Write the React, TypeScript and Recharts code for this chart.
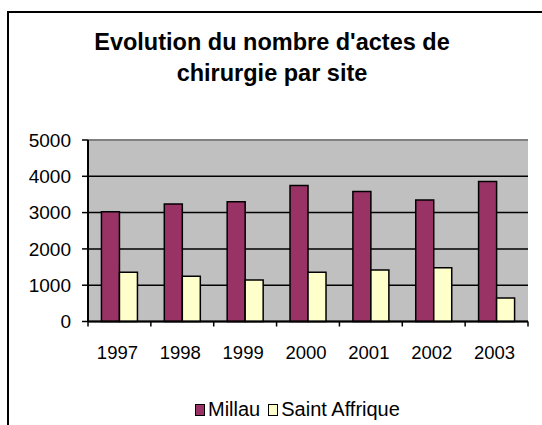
import React from 'react';
import { BarChart, Bar, XAxis, YAxis, CartesianGrid, Legend, ReferenceLine } from 'recharts';

const years = ['1997', '1998', '1999', '2000', '2001', '2002', '2003'];
const millau = [3020, 3240, 3300, 3750, 3580, 3350, 3860];
const saintAffrique = [1360, 1250, 1140, 1360, 1420, 1480, 650];
const yTicks = [0, 1000, 2000, 3000, 4000, 5000];
const seriesNames = ['Millau', 'Saint Affrique'];
const seriesColors = ['#993366', '#FFFFCC'];
const titleLines = ["Evolution du nombre d'actes de", 'chirurgie par site'];

const data = years.map((y, i) => ({ year: y, millau: millau[i], sa: saintAffrique[i] }));

const CHART_W = 542;
const CHART_H = 425;
const MARGIN = { top: 140, right: 14, bottom: 63.5, left: 0 };
const Y_AXIS_W = 88;
const X_AXIS_H = 40;
const PLOT_W = CHART_W - MARGIN.left - MARGIN.right - Y_AXIS_W;
const STEP = PLOT_W / years.length;
const FONT = '"Liberation Sans", Arial, sans-serif';

const XTick = (props: any) => {
  const { x, y, payload, index } = props;
  const last = index === years.length - 1;
  return (
    <g>
      <line x1={x - STEP / 2} x2={x - STEP / 2} y1={y} y2={y + 5} stroke="#000" strokeWidth={1.5} />
      {last && <line x1={x + STEP / 2} x2={x + STEP / 2} y1={y} y2={y + 5} stroke="#000" strokeWidth={1.5} />}
      <text x={x - 2} y={y + 37} textAnchor="middle" fontSize={18.5} fill="#000" fontFamily={FONT}>
        {payload.value}
      </text>
    </g>
  );
};

const LegendContent = () => (
  <div style={{ display: 'flex', alignItems: 'center', fontFamily: FONT, fontSize: 20, color: '#000', paddingLeft: 195 }}>
    {seriesNames.map((n, i) => (
      <div key={n} style={{ display: 'flex', alignItems: 'center', marginRight: 8 }}>
        <span style={{ display: 'inline-block', width: 8, height: 10, background: seriesColors[i], border: '1.5px solid #000', marginRight: 3 }} />
        <span>{n}</span>
      </div>
    ))}
  </div>
);

export default function App() {
  return (
    <div style={{ position: 'absolute', left: 0, top: 0, width: CHART_W, height: CHART_H, background: '#fff', fontFamily: FONT, overflow: 'hidden' }}>
      <div style={{ position: 'absolute', left: 7, top: 11, width: 540, height: 420, borderTop: '2px solid #000', borderLeft: '2.5px solid #000' }} />
      <div style={{ position: 'absolute', left: 0, top: 27, width: 544, textAlign: 'center', fontWeight: 'bold', fontSize: 23.5, lineHeight: '31px', color: '#000' }}>
        {titleLines.map((t) => (
          <div key={t}>{t}</div>
        ))}
      </div>
      <div style={{ position: 'absolute', left: 0, top: 0 }}>
        <BarChart width={CHART_W} height={CHART_H} data={data} margin={MARGIN} barCategoryGap="21.4%" barGap={0}>
          <CartesianGrid vertical={false} horizontal={true} fill="#C0C0C0" stroke="#000" strokeWidth={1.5} />
          <XAxis
            dataKey="year"
            height={X_AXIS_H}
            interval={0}
            tickLine={false}
            tickSize={0}
            tickMargin={0}
            axisLine={{ stroke: '#000', strokeWidth: 2 }}
            tick={<XTick />}
          />
          <YAxis
            width={Y_AXIS_W}
            domain={[0, 5000]}
            ticks={yTicks}
            interval={0}
            tickSize={6}
            tickMargin={11}
            axisLine={{ stroke: '#000', strokeWidth: 2 }}
            tickLine={{ stroke: '#000', strokeWidth: 1.5 }}
            tick={{ fill: '#000', fontSize: 19, fontFamily: FONT }}
          />
          <YAxis
            yAxisId="r"
            orientation="right"
            width={0}
            domain={[0, 5000]}
            tick={false}
            tickLine={false}
            axisLine={{ stroke: '#808080', strokeWidth: 2 }}
          />
          <ReferenceLine y={5000} stroke="#808080" strokeWidth={2} />
          <Legend
            layout="horizontal"
            verticalAlign="middle"
            align="center"
            wrapperStyle={{ top: 398, left: 0, width: CHART_W }}
            content={<LegendContent />}
          />
          <Bar dataKey="millau" name={seriesNames[0]} fill={seriesColors[0]} stroke="#000" strokeWidth={1.5} isAnimationActive={false} />
          <Bar dataKey="sa" name={seriesNames[1]} fill={seriesColors[1]} stroke="#000" strokeWidth={1.5} isAnimationActive={false} />
        </BarChart>
      </div>
    </div>
  );
}
